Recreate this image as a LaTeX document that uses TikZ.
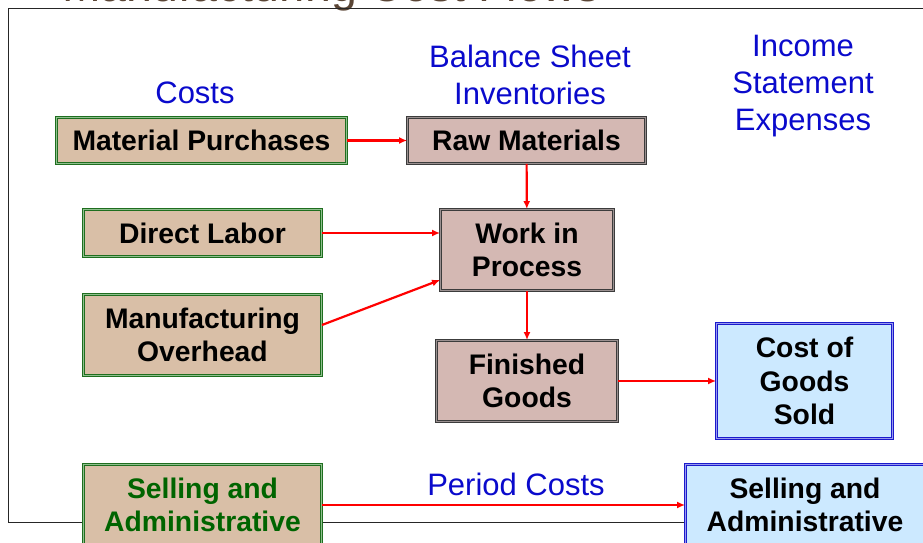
\documentclass[tikz,border=0pt]{standalone}
\usepackage{fontspec}
\setmainfont{Liberation Sans}
\usepackage{tikz}
\usetikzlibrary{graphs}
\usetikzlibrary {arrows.meta}

\definecolor{costfill}{HTML}{D9BFA7}
\definecolor{costline}{HTML}{1F6E1F}
\definecolor{costgap}{HTML}{8FC08F}
\definecolor{invfill}{HTML}{D4B8B3}
\definecolor{invline}{HTML}{3C3C3C}
\definecolor{invgap}{HTML}{9A9090}
\definecolor{expfill}{HTML}{CCE9FF}
\definecolor{expline}{HTML}{1A1ACC}
\definecolor{expgap}{HTML}{9999EE}
\definecolor{headblue}{HTML}{0A0ACC}
\definecolor{titlebrown}{HTML}{5A4535}
\definecolor{periodgreen}{HTML}{006400}

\tikzset{
  box/.style={double distance=1.4pt, line width=0.9pt, align=center, inner sep=0pt,
    font=\bfseries\fontsize{28.3}{33.6}\selectfont},
  cost/.style={box, draw=costline, double=costgap, fill=costfill},
  inventory/.style={box, draw=invline, double=invgap, fill=invfill},
  expense/.style={box, draw=expline, double=expgap, fill=expfill},
  heading/.style={text=headblue, align=center, font=\fontsize{31}{37}\selectfont},
  flow/.style={draw=red, line width=2.2pt},
}

\begin{document}
\begin{tikzpicture}[x=1pt, y=-1pt, >={Latex[length=8pt,width=7pt]}]
        \useasboundingbox (0,0) rectangle (923,543);
        \clip (0,0) rectangle (923,543);

        % title and frame
        \node[text=titlebrown, anchor=base, font=\fontsize{46.5}{55}\selectfont] (title) at (331,2) {Manufacturing Cost Flows};
        \draw[line width=0.8pt, black!85] (940,8) -- (8,8) -- (8,522) -- (940,522);

        % column headings
        \node[heading] (costs) at (195,93) {Costs};
        \node[heading] (balance) at (530,75) {Balance Sheet\\Inventories};
        \node[heading] (income) at (803,86) {Income\\Statement\\Expenses};
        \node[heading] (period) at (516,484) {Period Costs};

        % boxes
        \node[cost, minimum width=290, minimum height=46] (purchases) at (201.5,140.5) {Material Purchases};
        \node[cost, minimum width=238, minimum height=47] (labor) at (202.5,233) {Direct Labor};
        \node[cost, minimum width=238, minimum height=81] (overhead) at (202.5,335) {Manufacturing\\Overhead};
        \node[cost, minimum width=238, minimum height=81, text=periodgreen] (sellcost) at (202.5,505) {Selling and\\Administrative};

        \node[inventory, minimum width=238, minimum height=46] (raw) at (526.5,140.5) {Raw Materials};
        \node[inventory, minimum width=173, minimum height=81] (wip) at (527,250) {Work in\\Process};
        \node[inventory, minimum width=181, minimum height=81] (finished) at (527,381) {Finished\\Goods};

        \node[expense, minimum width=176, minimum height=115] (cogs) at (804.5,381) {Cost of\\Goods\\Sold};
        \node[expense, minimum width=239, minimum height=81] (sellexp) at (805,505) {Selling and\\Administrative};

        \graph[use existing nodes, edges={flow}] {purchases -> raw -> wip -> finished -> cogs; sellcost -> sellexp;};
        \draw[flow, ->] (labor.east) -- (labor.east -| wip.west);
        \draw[flow, ->] ([yshift=10pt]overhead.east) -- ([yshift=-30pt]wip.west);
    \end{tikzpicture}
\end{document}
